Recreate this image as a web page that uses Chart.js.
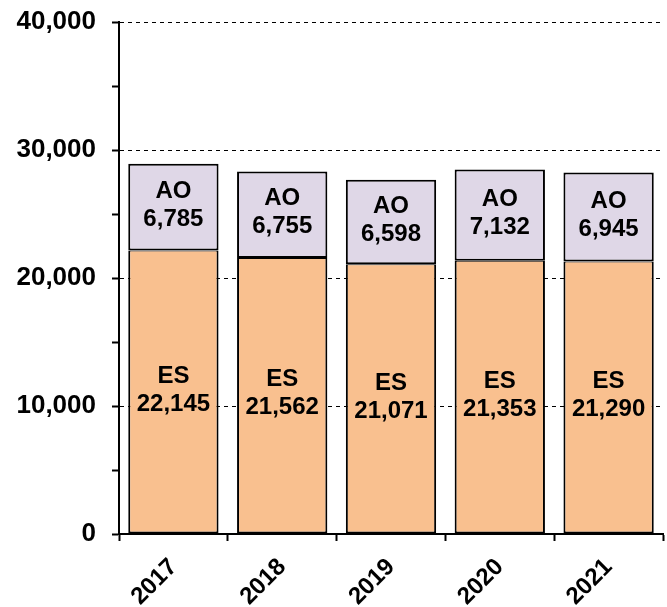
<!DOCTYPE html>
<html>
<head>
<meta charset="utf-8">
<script src="https://cdn.jsdelivr.net/npm/chart.js@4.4.1/dist/chart.umd.min.js"></script>
<style>
  html, body { margin: 0; padding: 0; background: #fff; }
  #wrap { width: 667px; height: 607px; }
</style>
</head>
<body>
<div id="wrap"><canvas id="chart" width="667" height="607"></canvas></div>
<script>
// chart data
const years = ['2017', '2018', '2019', '2020', '2021'];
const esValues = [22145, 21562, 21071, 21353, 21290];
const aoValues = [6785, 6755, 6598, 7132, 6945];
const yTicks = [0, 10000, 20000, 30000, 40000];

const FONT = "'Liberation Sans', Arial, sans-serif";
const nf = new Intl.NumberFormat('en-US');

// draws "NAME\nvalue" in the middle of each bar segment
const barLabels = {
    id: 'barLabels',
    afterDatasetsDraw(chart) {
        const ctx = chart.ctx;
        ctx.save();
        ctx.font = 'bold 24px ' + FONT;
        ctx.fillStyle = '#000';
        ctx.textAlign = 'center';
        ctx.textBaseline = 'middle';
        chart.data.datasets.forEach((ds, di) => {
            const meta = chart.getDatasetMeta(di);
            meta.data.forEach((bar, i) => {
                const cy = (bar.y + bar.base) / 2 - 2;
                ctx.fillText(ds.label, bar.x, cy - 14);
                ctx.fillText(nf.format(ds.data[i]), bar.x, cy + 14);
            });
        });
        ctx.restore();
    }
};

new Chart(document.getElementById('chart'), {
    type: 'bar',
    data: {
        labels: years,
        datasets: [
            { label: 'ES', data: esValues, backgroundColor: '#F9C08F', borderColor: '#000',
              borderWidth: { top: 1, left: 2, right: 2, bottom: 2 }, borderSkipped: false },
            { label: 'AO', data: aoValues, backgroundColor: '#DFD7E7', borderColor: '#000',
              borderWidth: { top: 2, left: 2, right: 2, bottom: 2 }, borderSkipped: false }
        ]
    },
    options: {
        responsive: false,
        animation: false,
        layout: { padding: { top: 22, right: 4, left: 0, bottom: 0 } },
        plugins: { legend: { display: false }, tooltip: { enabled: false } },
        datasets: { bar: { categoryPercentage: 1, barPercentage: 0.83 } },
        scales: {
            x: {
                stacked: true,
                afterFit(scale) { scale.height = 73; scale.paddingLeft = 0; scale.paddingRight = 0; },
                border: { color: '#000', width: 2 },
                grid: { drawOnChartArea: false, offset: true, tickLength: 7, tickColor: '#000', tickWidth: 2 },
                ticks: { color: '#000', font: { family: FONT, size: 24, weight: 'bold' }, maxRotation: 45, minRotation: 45, padding: 12 }
            },
            y: {
                stacked: true,
                min: yTicks[0],
                max: yTicks[yTicks.length - 1],
                afterFit(scale) { scale.width = 119; scale.paddingTop = 0; scale.paddingBottom = 0; },
                border: { color: '#000', width: 2, dash: [4, 4] },
                grid: {
                    color: c => (yTicks.includes(c.tick.value) ? '#000' : 'transparent'),
                    lineWidth: 1,
                    tickLength: 7,
                    tickColor: '#000',
                    tickWidth: 2
                },
                ticks: {
                    stepSize: 5000,
                    color: '#000',
                    padding: 16,
                    font: { family: FONT, size: 26, weight: 'bold' },
                    callback: v => (yTicks.includes(v) ? nf.format(v) : '')
                }
            }
        }
    },
    plugins: [barLabels]
});
</script>
</body>
</html>
